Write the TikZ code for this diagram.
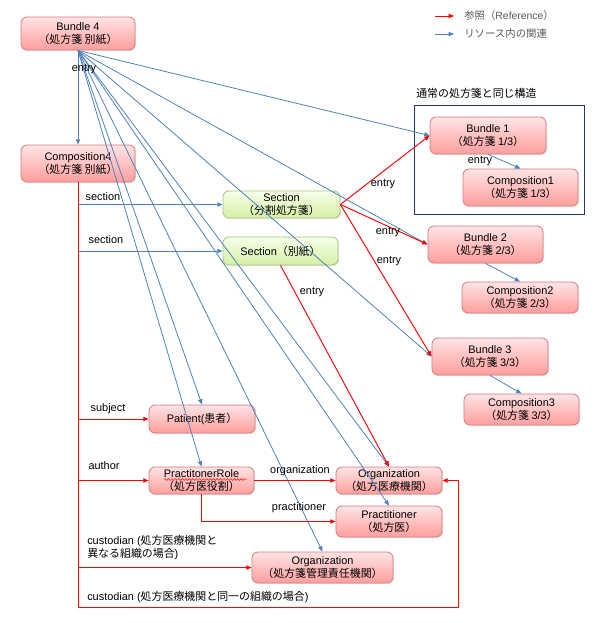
\documentclass[tikz,border=0pt]{standalone}
\usepackage{fontspec}
\setmainfont{Liberation Sans}
\newfontfamily\cjk{Noto Sans CJK JP}
\usetikzlibrary{arrows.meta,shadows,decorations.pathmorphing}
\newcommand\jp[1]{{\cjk #1}}

\definecolor{refred}{HTML}{FF0000}
\definecolor{relblue}{HTML}{4F81BD}
\definecolor{pinktop}{HTML}{FFE4E4}
\definecolor{pinkbot}{HTML}{FF9D9D}
\definecolor{pinkedge}{HTML}{D97B7D}
\definecolor{greentop}{HTML}{F6FFE8}
\definecolor{greenbot}{HTML}{D4F0A6}
\definecolor{greenedge}{HTML}{A9C47F}
\definecolor{framenavy}{HTML}{1F3763}
\definecolor{legendgray}{HTML}{595959}

\tikzset{
  res/.style={draw=pinkedge, line width=0.6pt, rounded corners=4.5pt,
    top color=pinktop, bottom color=pinkbot, align=center, inner sep=0pt,
    font=\fontsize{8.2}{9.8}\selectfont,
    drop shadow={opacity=0.22, shadow xshift=0.8pt, shadow yshift=-0.8pt}},
  sec/.style={res, draw=greenedge, top color=greentop, bottom color=greenbot},
  box/.style 2 args={minimum width=#1*0.75pt, minimum height=#2*0.75pt},
  rel/.style={relblue, line width=0.6pt, -{Triangle[length=4pt,width=3.2pt]}},
  ref/.style={refred, line width=0.7pt, -{Triangle[length=4pt,width=3.2pt]}},
  lbl/.style={font=\fontsize{8.2}{9.8}\selectfont, inner sep=0pt},
  legendtxt/.style={font=\fontsize{7.8}{9.4}\selectfont, text=legendgray, inner sep=0pt, anchor=west},
}

\begin{document}
\begin{tikzpicture}[x=0.75pt, y=-0.75pt]
\useasboundingbox (0,0) rectangle (602,623);

% legend
\coordinate (lgRedA) at (435,16);
\coordinate (lgRedB) at (454,16);
\coordinate (lgBlueA) at (435,34);
\coordinate (lgBlueB) at (454,34);
\draw[ref] (lgRedA) -- (lgRedB);
\draw[rel] (lgBlueA) -- (lgBlueB);
\node[legendtxt] (lgRed) at (464,16) {\jp{参照（}Reference\jp{）}};
\node[legendtxt] (lgBlue) at (464,34) {\jp{リソース内の関連}};

% group of the regular prescription structure
\node[draw=framenavy, line width=0.6pt, box={170}{109}] (grp) at (499,159.5) {};
\node[lbl, anchor=west] (grptitle) at (416,93) {\jp{通常の処方箋と同じ構造}};

% resources
\node[res, box={114}{33}] (b4) at (78,33.5) {Bundle 4\\\jp{（処方箋 別紙）}};
\node[res, box={114}{37}] (c4) at (78,163.5) {Composition4\\\jp{（処方箋 別紙）}};
\node[sec, box={117}{27}] (s1) at (281.5,204.5) {Section\\\jp{（分割処方箋）}};
\node[sec, box={115}{28}] (s2) at (280.5,251) {Section\jp{（別紙）}};
\node[res, box={116}{37}] (b1) at (488,135.5) {Bundle 1\\\jp{（処方箋 }1/3\jp{）}};
\node[res, box={115}{37}] (c1) at (520.5,187.5) {Composition1\\\jp{（処方箋 }1/3\jp{）}};
\node[res, box={115}{37}] (b2) at (485.5,244.5) {Bundle 2\\\jp{（処方箋 }2/3\jp{）}};
\node[res, box={116}{31}] (c2) at (520,297.5) {Composition2\\\jp{（処方箋 }2/3\jp{）}};
\node[res, box={116}{37}] (b3) at (490,356.5) {Bundle 3\\\jp{（処方箋 }3/3\jp{）}};
\node[res, box={115}{31}] (c3) at (521.5,409.5) {Composition3\\\jp{（処方箋 }3/3\jp{）}};
\node[res, box={106}{28}] (pat) at (202,419) {Patient(\jp{患者）}};
\node[res, box={105}{27}] (prole) at (201.5,480.5) {PractitonerRole\\\jp{（処方医役割）}};
\node[res, box={106}{27}] (org) at (389,480.5) {Organization\\\jp{（処方医療機関）}};
\node[res, box={106}{31}] (prac) at (389,521.5) {Practitioner\\\jp{（処方医）}};
\node[res, box={141}{31}] (orgm) at (322.5,567.5) {Organization\\\jp{（処方箋管理責任機関）}};

% spell-check squiggle under the role name
\draw[refred, line width=0.35pt, decorate, decoration={snake, segment length=2.6pt, amplitude=0.7pt}]
  (164,479.5) -- (247,479.5);

% entries of Bundle 4
\draw[rel] (b4.south) -- (c4.north);
\draw[rel] (b4.south) -- (b1.west);
\draw[rel] (b4.south) -- (b2.west);
\draw[rel] (b4.south) -- (b3.west);
\draw[rel] (b4.south) -- (pat.north);
\draw[rel] (b4.south) -- (prole.north);
\draw[rel] (b4.south) -- (org.north);
\draw[rel] (b4.south) -- (prac.north);
\draw[rel] (b4.south) -- (orgm.north);

% entries of the bundles 1-3
\draw[rel] (b1.south) -- (c1.north);
\draw[rel] (b2.south) -- (c2.north);
\draw[rel] (b3.south) -- (c3.north);

% section entries
\draw[ref] (s1.east) -- (b1.west);
\draw[ref] (s1.east) -- (b2.west);
\draw[ref] (s1.east) -- (b3.west);
\draw[ref] (s2.south) -- (org.north);

% references out of Composition4
\coordinate (spineEnd) at (78,607);
\coordinate (loopCorner) at (458,607);
\draw[ref] (c4.south) -- (spineEnd) -- (loopCorner) |- (org.east);
\draw[rel] (c4.south |- s1.west) -- (s1.west);
\draw[rel] (c4.south |- s2.west) -- (s2.west);
\draw[ref] (c4.south |- pat.west) -- (pat.west);
\draw[ref] (c4.south |- prole.west) -- (prole.west);
\draw[ref] (c4.south |- orgm.west) -- (orgm.west);

% practitioner role references
\draw[ref] (prole.east) -- (org.west);
\draw[ref] (prole.south) |- (prac.west);

% labels
\node[lbl] (lEntry0) at (84,69) {entry};
\node[lbl] (lSec1) at (103,197) {section};
\node[lbl] (lSec2) at (106,240) {section};
\node[lbl] (lSubj) at (108,409) {subject};
\node[lbl] (lAuth) at (104,466) {author};
\node[lbl, anchor=west, align=left] (lCust1) at (87,547.5)
  {custodian (\jp{処方医療機関と}\\\jp{異なる組織の場合}) };
\node[lbl, anchor=west] (lCust2) at (87,597)
  {custodian (\jp{処方医療機関と同一の組織の場合})};
\node[lbl] (lOrg) at (300,471) {organization};
\node[lbl] (lPrac) at (299,508) {practitioner};
\node[lbl] (lEntry1) at (383,184) {entry};
\node[lbl] (lEntry2) at (388,232) {entry};
\node[lbl] (lEntry3) at (389,261) {entry};
\node[lbl] (lEntry4) at (312,292) {entry};
\node[lbl] (lEntry5) at (480,161) {entry};
\end{tikzpicture}
\end{document}
